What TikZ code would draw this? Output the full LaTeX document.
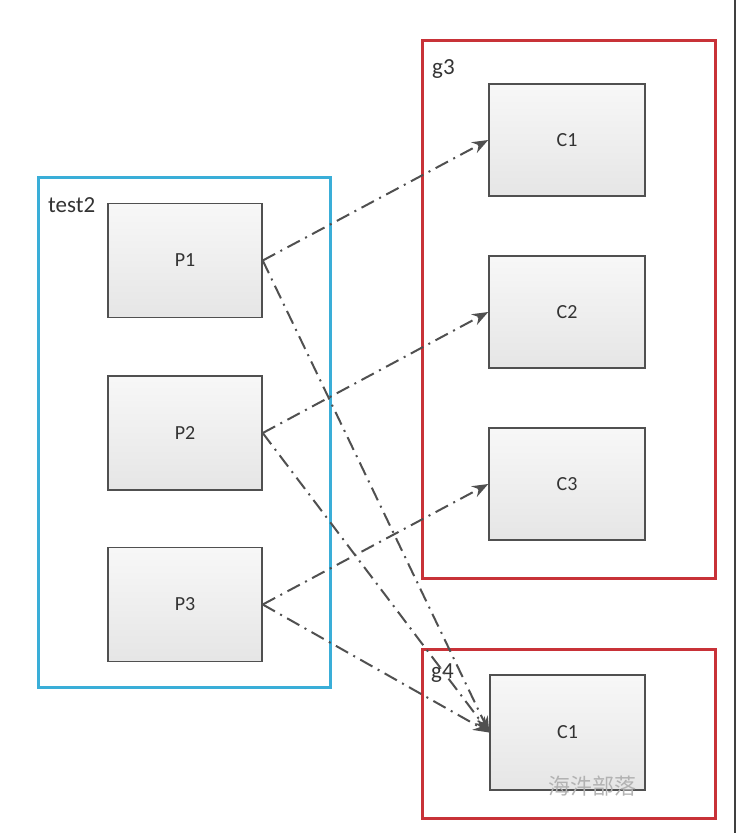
\documentclass[tikz,border=0pt]{standalone}
\usepackage{fontspec}
\setmainfont{Carlito}
\newfontfamily\cjk{Noto Sans CJK SC}
\usetikzlibrary{arrows.meta}
\definecolor{bluebox}{HTML}{3AAED8}
\definecolor{redbox}{HTML}{C83238}
\definecolor{linegray}{HTML}{505050}
\tikzset{
  pbox/.style={draw=linegray, line width=1.5pt, top color=black!3, bottom color=black!10,
    minimum width=154pt, minimum height=114pt, inner sep=0pt, font=\fontsize{20}{22}\selectfont, text=black!80},
  grp/.style={line width=3pt},
  lbl/.style={anchor=north west, inner sep=0pt, font=\fontsize{23}{25}\selectfont, text=black!80},
  flow/.style={draw=linegray, line width=2pt, dash pattern=on 14pt off 6pt on 2pt off 6pt,
    -{Stealth[length=16pt,width=12pt]}}
}
\begin{document}
\begin{tikzpicture}[x=1pt,y=-1pt]
\useasboundingbox (0,0) rectangle (739,833);
\fill[white] (0,0) rectangle (739,833);
% frame line at right
\draw[line width=2.5pt, black!75] (735,0) -- (735,833);
% groups
\draw[grp, bluebox] (38,177) rectangle (330,687);
\node[lbl] (t2) at (48,197) {test2};
\draw[grp, redbox] (422,40) rectangle (715,578);
\node[lbl] (tg3) at (432,59) {g3};
\draw[grp, redbox] (422,649) rectangle (715,818);
\node[lbl] (tg4) at (431,664) {g4};
% boxes
\node[pbox] (P1) at (185,260.5) {P1};
\node[pbox] (P2) at (185,433) {P2};
\node[pbox] (P3) at (185,604.5) {P3};
\node[pbox, minimum width=156pt, minimum height=112pt] (C1) at (567,140) {C1};
\node[pbox, minimum width=156pt, minimum height=112pt] (C2) at (567,312) {C2};
\node[pbox, minimum width=156pt, minimum height=112pt] (C3) at (567,484) {C3};
\node[pbox, minimum width=155pt, minimum height=115pt] (D1) at (567.5,732.5) {C1};
% connectors
\draw[flow] (P1.east) -- (C1.west);
\draw[flow] (P1.east) -- (D1.west);
\draw[flow] (P2.east) -- (C2.west);
\draw[flow] (P2.east) -- (D1.west);
\draw[flow] (P3.east) -- (C3.west);
\draw[flow] (P3.east) -- (D1.west);
% watermark
\node[text=black!30, font=\cjk\fontsize{22}{24}\selectfont] (wm) at (592,786) {海汼部落};
\end{tikzpicture}
\end{document}
